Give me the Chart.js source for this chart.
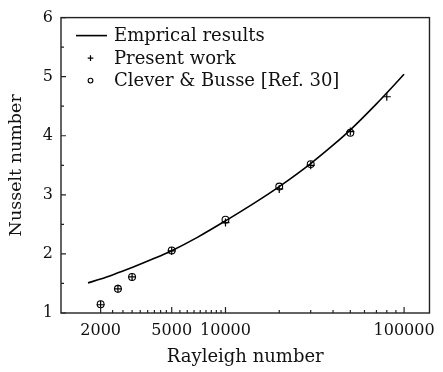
<!DOCTYPE html>
<html>
<head>
<meta charset="utf-8">
<script src="https://cdn.jsdelivr.net/npm/chart.js@4.4.0/dist/chart.umd.min.js"></script>
<style>
  html, body { margin: 0; padding: 0; background: #fff; }
  #wrap { width: 443px; height: 372px; }
</style>
</head>
<body>
<div id="wrap"><canvas id="chart" width="443" height="372"></canvas></div>
<script>
const curveRa = [1700, 2000, 2500, 3000, 4000, 5000, 7000, 10000, 15000, 20000, 30000, 40000, 50000, 70000, 100000];
const curveNu = [1.51, 1.575, 1.68, 1.77, 1.925, 2.055, 2.285, 2.56, 2.89, 3.14, 3.53, 3.84, 4.10, 4.54, 5.04];

// Present work (+)
const presentRa = [2000, 2500, 3000, 5000, 10000, 20000, 30000, 50000, 80000];
const presentNu = [1.14, 1.41, 1.61, 2.05, 2.53, 3.10, 3.50, 4.07, 4.66];

// Clever & Busse (o)
const cleverRa = [2000, 2500, 3000, 5000, 10000, 20000, 30000, 50000];
const cleverNu = [1.15, 1.41, 1.61, 2.06, 2.58, 3.14, 3.52, 4.05];

// Axis ticks
const xLabelTicks = [2000, 5000, 10000, 100000];
const xMinorTicks = [2333, 2667, 3000, 3333, 3667, 4000, 4333, 4667,
                     5556, 6111, 6667, 7222, 7778, 8333, 8889, 9444,
                     20000, 30000, 40000, 50000, 60000, 70000, 80000, 90000];
const yMajorTicks = [1, 2, 3, 4, 5, 6];
const yMinorTicks = [1.5, 2.5, 3.5, 4.5, 5.5];

const FONT = "'DejaVu Serif', serif";
const INK = '#111';

const toPoints = (xs, ys) => xs.map((x, i) => ({ x: x, y: ys[i] }));

// inward tick marks + full frame
const frameTicks = {
    id: 'frameTicks',
    afterDatasetsDraw(chart) {
        const { ctx, chartArea: a, scales } = chart;
        ctx.save();
        ctx.strokeStyle = '#222';
        ctx.lineWidth = 1.2;
        ctx.beginPath();
        xLabelTicks.forEach(v => {
            const px = scales.x.getPixelForValue(v);
            ctx.moveTo(px, a.bottom); ctx.lineTo(px, a.bottom - 6);
        });
        xMinorTicks.forEach(v => {
            const px = scales.x.getPixelForValue(v);
            ctx.moveTo(px, a.bottom); ctx.lineTo(px, a.bottom - 3);
        });
        yMajorTicks.forEach(v => {
            const py = scales.y.getPixelForValue(v);
            ctx.moveTo(a.left, py); ctx.lineTo(a.left + 5, py);
        });
        yMinorTicks.forEach(v => {
            const py = scales.y.getPixelForValue(v);
            ctx.moveTo(a.left, py); ctx.lineTo(a.left + 3, py);
        });
        ctx.stroke();
        ctx.lineWidth = 1.4;
        ctx.strokeRect(a.left, a.top, a.right - a.left, a.bottom - a.top);
        ctx.restore();
    }
};

// legend in the upper left corner of the plot
const insideLegend = {
    id: 'insideLegend',
    afterDraw(chart) {
        const { ctx, chartArea: a } = chart;
        const x0 = a.left + 15, x1 = a.left + 46, tx = a.left + 53;
        ctx.save();
        ctx.font = '18px ' + FONT;
        ctx.textBaseline = 'middle';
        chart.data.datasets.forEach((ds, i) => {
            const y = a.top + 18 + i * 22.5;
            ctx.strokeStyle = ds.borderColor;
            ctx.lineWidth = ds.borderWidth;
            if (ds.showLine) {
                ctx.beginPath();
                ctx.moveTo(x0, y); ctx.lineTo(x1, y);
                ctx.stroke();
            } else {
                ctx.fillStyle = 'rgba(0,0,0,0)';
                Chart.helpers.drawPoint(ctx, {
                    pointStyle: ds.pointStyle,
                    radius: ds.pointRadius * 0.7,
                    borderWidth: ds.borderWidth,
                    rotation: 0
                }, (x0 + x1) / 2 - 1, y);
            }
            ctx.fillStyle = INK;
            ctx.fillText(ds.label, tx, y + 1);
        });
        ctx.restore();
    }
};

const ctx = document.getElementById('chart').getContext('2d');
new Chart(ctx, {
    type: 'scatter',
    data: {
        datasets: [
            {
                label: 'Emprical results',
                data: toPoints(curveRa, curveNu),
                showLine: true,
                borderColor: '#000',
                borderWidth: 1.6,
                pointRadius: 0,
                cubicInterpolationMode: 'monotone',
                fill: false
            },
            {
                label: 'Present work',
                data: toPoints(presentRa, presentNu),
                showLine: false,
                pointStyle: 'cross',
                pointRadius: 4,
                borderColor: '#000',
                borderWidth: 1.2,
                backgroundColor: 'rgba(0,0,0,0)'
            },
            {
                label: 'Clever & Busse [Ref. 30]',
                data: toPoints(cleverRa, cleverNu),
                showLine: false,
                pointStyle: 'circle',
                pointRadius: 3.4,
                borderColor: '#000',
                borderWidth: 1.1,
                backgroundColor: 'rgba(0,0,0,0)'
            }
        ]
    },
    options: {
        responsive: false,
        animation: false,
        devicePixelRatio: 1,
        layout: { padding: { left: 0, right: 4.5, top: 11, bottom: 0 } },
        plugins: {
            legend: { display: false },
            tooltip: { enabled: false }
        },
        scales: {
            x: {
                type: 'logarithmic',
                min: 1200,
                max: 138700,
                afterBuildTicks: s => { s.ticks = xLabelTicks.map(v => ({ value: v })); },
                afterFit: s => { s.height = 59; },
                grid: { display: false, drawTicks: false },
                border: { display: false },
                ticks: {
                    autoSkip: false,
                    maxRotation: 0,
                    padding: 8,
                    color: INK,
                    font: { family: FONT, size: 16 },
                    callback: v => String(v)
                },
                title: {
                    display: true,
                    text: 'Rayleigh number',
                    color: INK,
                    font: { family: FONT, size: 18 },
                    padding: { top: 0, bottom: 4 }
                }
            },
            y: {
                min: 1,
                max: 6,
                afterBuildTicks: s => { s.ticks = yMajorTicks.map(v => ({ value: v })); },
                afterFit: s => { s.width = 61; },
                grid: { display: false, drawTicks: false },
                border: { display: false },
                ticks: {
                    padding: 8,
                    color: INK,
                    font: { family: FONT, size: 16 }
                },
                title: {
                    display: true,
                    text: 'Nusselt number',
                    color: INK,
                    font: { family: FONT, size: 17.5 },
                    padding: { top: 6, bottom: 0 }
                }
            }
        }
    },
    plugins: [frameTicks, insideLegend]
});
</script>
</body>
</html>
